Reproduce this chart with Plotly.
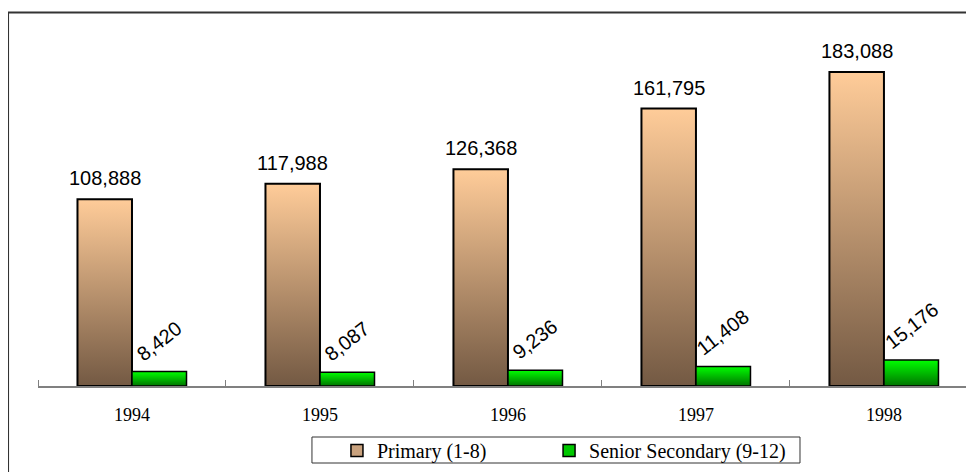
import plotly.graph_objects as go

years = ['1994', '1995', '1996', '1997', '1998']
primary = [108888, 117988, 126368, 161795, 183088]
senior = [8420, 8087, 9236, 11408, 15176]

primary_name = 'Primary (1-8)'
senior_name = 'Senior Secondary (9-12)'

bar_w = 0.29
brown_scale = [[0, '#735943'], [1, '#FFCC99']]
green_scale = [[0, '#007400'], [1, '#00FF00']]
label_font = dict(family='Liberation Sans, Arial', size=20, color='black')
legend_font = dict(family='Liberation Serif, Times New Roman', size=20, color='black')


def bar_shape(fig, x0, x1, v, scale, lw):
    # one filled rectangle per bar so each gets its own vertical gradient
    fig.add_scatter(
        x=[x0, x0, x1, x1, x0],
        y=[0, v, v, 0, 0],
        mode='lines',
        fill='toself',
        fillgradient=dict(type='vertical', colorscale=scale),
        line=dict(color='black', width=lw),
        hoverinfo='skip',
        showlegend=False,
    )


fig = go.Figure()

for i, (p, s) in enumerate(zip(primary, senior)):
    bar_shape(fig, i - bar_w, i, p, brown_scale, 2)
    bar_shape(fig, i, i + bar_w, s, green_scale, 1.5)
    fig.add_annotation(
        x=i - bar_w / 2, y=p, text=f"{p:,}", showarrow=False,
        xanchor='center', yanchor='bottom', yshift=8, font=label_font,
    )
    fig.add_annotation(
        x=i + bar_w / 2, y=s, text=f"{s:,}", showarrow=False,
        textangle=-38, xanchor='center', yanchor='bottom', yshift=4,
        font=label_font,
    )

# legend entries (two legends so each item can be placed)
fig.add_bar(x=[None], y=[None], name=primary_name, legend='legend',
            marker=dict(color='#C9A27E', line=dict(color='black', width=1.5)))
fig.add_bar(x=[None], y=[None], name=senior_name, legend='legend2',
            marker=dict(color='#00C800', line=dict(color='black', width=1.5)))

# outer frame
fig.add_shape(type='rect', xref='paper', yref='paper',
              x0=-0.032, x1=1.05, y0=-0.5, y1=1.089,
              line=dict(color='#333333', width=2), layer='below')
# legend box
fig.add_shape(type='rect', xref='paper', yref='paper',
              x0=0.2927, x1=0.8141, y0=-0.2245, y1=-0.1487,
              line=dict(color='#333333', width=1), layer='below')

legend_common = dict(
    orientation='h',
    xanchor='left',
    y=-0.131,
    yanchor='top',
    borderwidth=0,
    bgcolor='rgba(0,0,0,0)',
    font=legend_font,
)

# the page body adds an 8px margin, so the figure is sized to fit inside it
fig.update_layout(
    width=966,
    height=464,
    margin=dict(l=30, r=0, t=35, b=86, autoexpand=False),
    paper_bgcolor='white',
    plot_bgcolor='white',
    xaxis=dict(
        range=[-0.5, 4.479],
        tickmode='array',
        tickvals=list(range(len(years))),
        ticktext=years,
        ticks='',
        ticklabelstandoff=12,
        showgrid=False,
        zeroline=False,
        showline=True,
        linecolor='#808080',
        linewidth=1.5,
        tickfont=dict(family='Liberation Serif, Times New Roman', size=18, color='black'),
        minor=dict(
            tickmode='array',
            tickvals=[i - 0.5 for i in range(len(years) + 1)],
            ticks='inside',
            ticklen=6,
            tickwidth=1,
            tickcolor='#808080',
            showgrid=False,
        ),
    ),
    yaxis=dict(
        range=[0, 200000],
        visible=False,
    ),
    legend=dict(x=0.3194, **legend_common),
    legend2=dict(x=0.5460, **legend_common),
)

fig.write_html("out.html")
